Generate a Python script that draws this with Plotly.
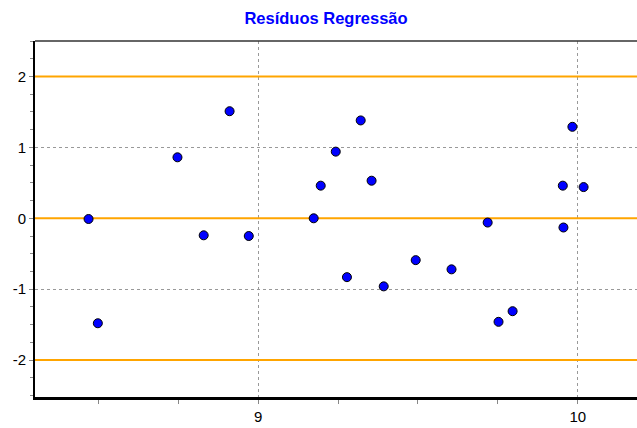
import plotly.graph_objects as go

x_vals = [8.470, 8.499, 8.748, 8.830, 8.911, 8.971, 9.174, 9.196, 9.243, 9.278, 9.321,
          9.355, 9.393, 9.493, 9.605, 9.718, 9.752, 9.796, 9.953, 9.955, 9.983, 10.018]
y_vals = [-0.01, -1.48, 0.86, -0.24, 1.51, -0.25, 0.00, 0.46, 0.94, -0.83, 1.38,
          0.53, -0.96, -0.59, -0.72, -0.06, -1.46, -1.31, 0.46, -0.13, 1.29, 0.44]
ref_lines = [-2, 0, 2]
x_range = [8.3025, 10.185]
y_range = [-2.52, 2.5]
x_ticks = [9, 10]
y_ticks = [-2, -1, 0, 1, 2]
title_text = "Resíduos Regressão"

fig = go.Figure()
for yv in ref_lines:
    fig.add_trace(go.Scatter(
        x=x_range, y=[yv, yv], mode="lines",
        line=dict(color="#FFA500", width=2),
        showlegend=False, hoverinfo="skip",
    ))

fig.add_trace(go.Scatter(
    x=x_vals, y=y_vals, mode="markers",
    marker=dict(symbol="circle", size=9, color="#0000FF",
                line=dict(color="#000000", width=1)),
    showlegend=False, cliponaxis=False,
))

fig.add_shape(type="line", xref="paper", yref="paper", x0=0, x1=1, y0=1, y1=1,
              line=dict(color="#333333", width=1.5))

fig.update_layout(
    width=637, height=428,
    margin=dict(l=35, r=0, t=41, b=31),
    paper_bgcolor="white", plot_bgcolor="white",
    title=dict(text="<b>" + title_text + "</b>", x=326 / 637, xanchor="center",
               y=1 - 18 / 428, yanchor="middle",
               font=dict(family="Arial, Liberation Sans", size=16.5, color="#0000FF")),
    font=dict(family="Arial, Liberation Sans", size=15, color="#000000"),
)

fig.update_xaxes(
    range=x_range, tickvals=x_ticks, ticktext=[str(v) for v in x_ticks],
    showgrid=True, gridcolor="#999999", griddash="dot", gridwidth=1,
    showline=True, linecolor="#000000", linewidth=2.5,
    ticks="outside", ticklen=4, tickcolor="#888888",
    minor=dict(dtick=0.25, tick0=8.5, ticks="outside", ticklen=4, tickcolor="#888888", showgrid=False),
    zeroline=False, automargin=False,
)
fig.update_yaxes(
    range=y_range, tickvals=y_ticks, ticktext=[str(v) for v in y_ticks],
    showgrid=True, gridcolor="#999999", griddash="dot", gridwidth=1,
    showline=True, linecolor="#000000", linewidth=2,
    ticks="outside", ticklen=4, tickcolor="#888888",
    minor=dict(dtick=0.25, tick0=0, ticks="outside", ticklen=3, tickcolor="#888888", showgrid=False),
    zeroline=False, automargin=False,
)

fig.write_html("out.html", config={"displayModeBar": False},
               post_script="document.body.style.margin='0';")
